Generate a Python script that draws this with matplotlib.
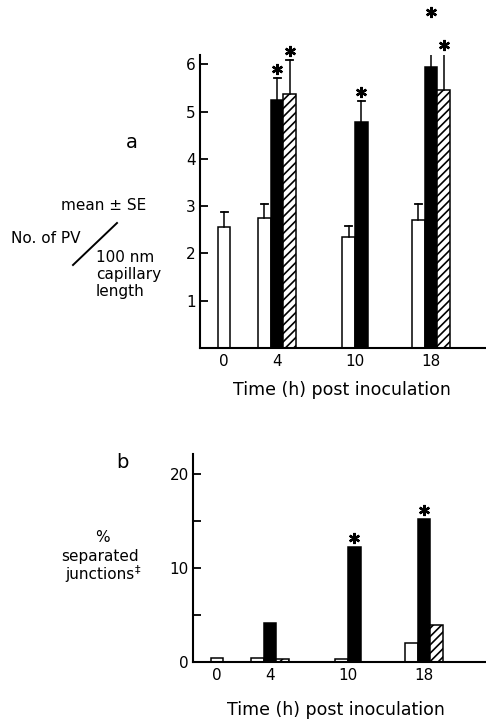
import numpy as np
import matplotlib
matplotlib.use('Agg')
import matplotlib.pyplot as plt
from matplotlib.lines import Line2D
from matplotlib import transforms

# data
times = ['0', '4', '10', '18']

# panel a : No. of PV / 100 nm capillary length (mean +- SE)
pv_open = [2.55, 2.75, 2.35, 2.70]
pv_open_se = [0.32, 0.30, 0.23, 0.35]
pv_black = [np.nan, 5.25, 4.79, 5.94]
pv_black_se = [np.nan, 0.47, 0.43, 0.98]
pv_hatch = [np.nan, 5.38, np.nan, 5.45]
pv_hatch_se = [np.nan, 0.72, np.nan, 0.77]
pv_star_black = [False, True, True, True]
pv_star_hatch = [False, True, False, True]

# panel b : % separated junctions
sj_open = [0.4, 0.4, 0.3, 2.0]
sj_black = [np.nan, 4.1, 12.2, 15.2]
sj_hatch = [np.nan, 0.3, np.nan, 3.9]
sj_star_black = [False, False, True, True]
sj_star_hatch = [False, False, False, False]

W, H = 486, 721
group_x = [24, 77, 155, 231]
bar_w = 12.8

plt.rcParams['font.family'] = 'DejaVu Sans'
plt.rcParams['font.size'] = 11
plt.rcParams['hatch.linewidth'] = 1.2

fig = plt.figure(figsize=(W / 100, H / 100), dpi=100)

def px(x, y):
    return x / W, 1 - y / H

def draw_panel(ax, series, ses, stars):
    styles = [dict(color='white', edgecolor='black'),
              dict(color='black', edgecolor='black'),
              dict(color='white', edgecolor='black', hatch='////')]
    star_tr = transforms.offset_copy(ax.transData, fig=fig, x=0, y=9, units='dots')
    for g in range(len(times)):
        present = [k for k in range(3) if not np.isnan(series[k][g])]
        n = len(present)
        for i, k in enumerate(present):
            x = group_x[g] + (i - (n - 1) / 2) * bar_w
            v = series[k][g]
            ax.bar(x, v, width=bar_w, linewidth=1.1, **styles[k])
            top = v
            if ses is not None and not np.isnan(ses[k][g]):
                top = v + ses[k][g]
                ax.plot([x, x], [v, top], color='black', lw=1.1)
                ax.plot([x - 3.5, x + 3.5], [top, top], color='black', lw=1.3)
            if stars[k] is not None and stars[k][g]:
                ax.plot(x, top, marker=(6, 2, 0), ms=8, mew=1.7, color='black',
                        transform=star_tr, clip_on=False)
    ax.spines['top'].set_visible(False)
    ax.spines['right'].set_visible(False)
    ax.spines['left'].set_linewidth(1.5)
    ax.spines['bottom'].set_linewidth(1.5)
    ax.set_xticks(group_x)
    ax.set_xticklabels(times)
    ax.tick_params(axis='x', length=0, pad=4)
    ax.tick_params(axis='y', direction='in', length=6, width=1.3, pad=3)
    ax.set_xlabel('Time (h) post inoculation', fontsize=12.5, va='center')

# panel a
axa = fig.add_axes([200 / W, 1 - 348 / H, 286 / W, 293 / H])
draw_panel(axa, [pv_open, pv_black, pv_hatch], [pv_open_se, pv_black_se, pv_hatch_se],
           [None, pv_star_black, pv_star_hatch])
axa.set_xlim(0, 286)
axa.set_ylim(0, 6.2)
axa.set_yticks([1, 2, 3, 4, 5, 6])
axa.xaxis.set_label_coords((342 - 200) / 286, (348 - 390) / 293)

# panel b
axb = fig.add_axes([193 / W, 1 - 662 / H, 293 / W, 208 / H])
draw_panel(axb, [sj_open, sj_black, sj_hatch], None,
           [None, sj_star_black, sj_star_hatch])
axb.set_xlim(0, 293)
axb.set_ylim(0, 22.1)
axb.set_yticks([0, 10, 20])
axb.set_yticks([5, 15], minor=True)
axb.tick_params(axis='y', which='minor', direction='in', length=6, width=1.3)
axb.xaxis.set_label_coords((336 - 193) / 293, (662 - 710) / 208)

# annotations, panel a
fig.text(*px(132, 142), 'a', fontsize=14, ha='center', va='center')
fig.text(*px(104, 206), 'mean ± SE', ha='center', va='center')
fig.text(*px(11, 238), 'No. of PV', ha='left', va='center')
fig.text(*px(96, 257), '100 nm', ha='left', va='center')
fig.text(*px(96, 274), 'capillary', ha='left', va='center')
fig.text(*px(96, 291), 'length', ha='left', va='center')
x0, y0 = px(73, 265)
x1, y1 = px(117, 223)
fig.add_artist(Line2D([x0, x1], [y0, y1], color='black', lw=1.4))

# annotations, panel b
fig.text(*px(122, 462), 'b', fontsize=14, ha='center', va='center')
fig.text(*px(102, 538), '%', ha='center', va='center')
fig.text(*px(100, 557), 'separated', ha='center', va='center')
fig.text(*px(65, 574), 'junctions', ha='left', va='center')
fig.text(*px(135, 569), '‡', fontsize=8, ha='left', va='center')

fig.savefig('out.png', dpi=100)
